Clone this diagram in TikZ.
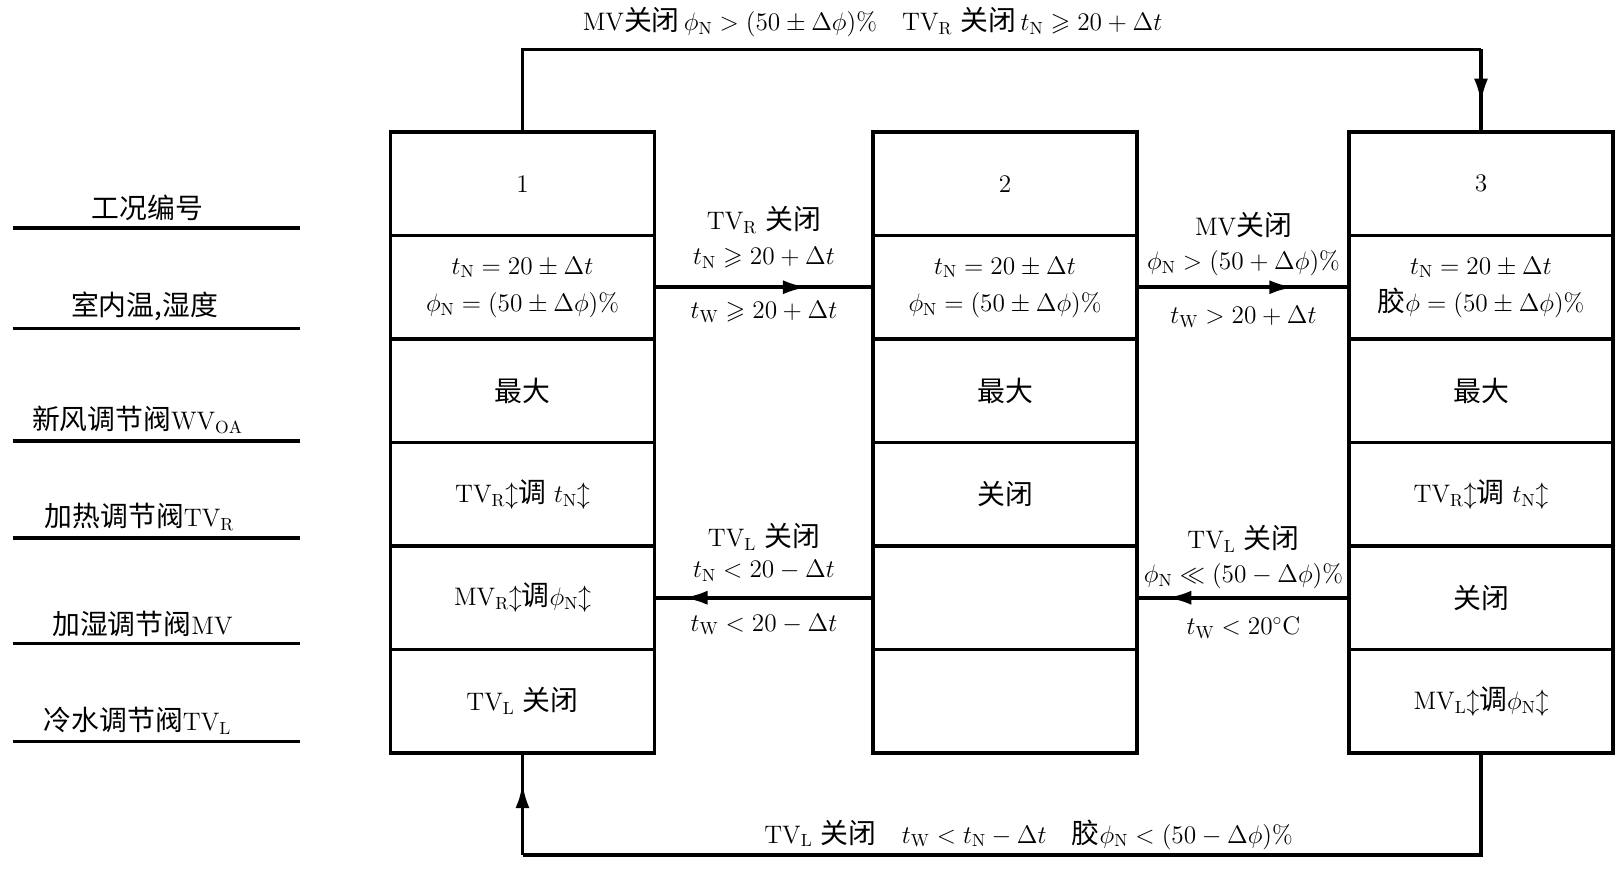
\documentclass[tikz,border=0pt]{standalone}
\usepackage{amsmath}
\usepackage{amssymb}
\usepackage{fontspec}
\newfontfamily\zhfont{Noto Sans CJK SC}[Scale=1.1]
\newcommand{\zh}[1]{{\zhfont #1}}
\usepackage{tikz}
\usetikzlibrary{positioning,arrows.meta,decorations.markings}

\tikzset{
  cell/.style={draw,line width=1.8pt,outer sep=0pt,minimum width=5.28cm,minimum height=2.07cm,align=center,inner sep=2pt},
  flow/.style={line width=2.2pt},
  rowline/.style={line width=1.8pt},
  tipat/.style={postaction={decorate},decoration={markings,mark=at position #1 with {\arrow{Latex[length=14pt,width=8pt]}}}},
}

\begin{document}
\begin{tikzpicture}[every node/.style={font=\fontsize{14.4}{17.3}\selectfont}]
    \useasboundingbox (0,0) rectangle (32.38,17.4);
    % row titles
    \node[above] (lab1) at (2.95,12.86) {\zh{工况编号}};
    \draw[rowline] (0.25,12.84)--(5.99,12.84);
    \node[above] (lab2) at (2.89,10.85) {\zh{室内温,湿度}};
    \draw[rowline] (0.25,10.83)--(5.99,10.83);
    \node[above] (lab3) at (2.75,8.60) {\zh{新风调节阀}WV$_{\mathrm{OA}}$};
    \draw[rowline] (0.25,8.58)--(5.99,8.58);
    \node[above] (lab4) at (2.79,6.66) {\zh{加热调节阀}TV$_{\mathrm R}$};
    \draw[rowline] (0.25,6.64)--(5.99,6.64);
    \node[above] (lab5) at (2.85,4.55) {\zh{加湿调节阀}MV};
    \draw[rowline] (0.25,4.53)--(5.99,4.53);
    \node[above] (lab6) at (2.75,2.59) {\zh{冷水调节阀}TV$_{\mathrm L}$};
    \draw[rowline] (0.25,2.57)--(5.99,2.57);
    % case 1
    \node[cell] (s1-1) at (10.45,13.725) {1};
    \node[cell,below=0pt of s1-1] (s1-2) {$t_{\mathrm N}=20\pm\Delta t$\\[4pt]$\phi_{\mathrm N}=(50\pm\Delta\phi)\%$};
    \node[cell,below=0pt of s1-2] (s1-3) {\zh{最大}};
    \node[cell,below=0pt of s1-3] (s1-4) {TV$_{\mathrm R}{\updownarrow}$\zh{调} $t_{\mathrm N}{\updownarrow}$};
    \node[cell,below=0pt of s1-4] (s1-5) {MV$_{\mathrm R}{\updownarrow}$\zh{调}$\phi_{\mathrm N}{\updownarrow}$};
    \node[cell,below=0pt of s1-5] (s1-6) {TV$_{\mathrm L}$ \zh{关闭}};
    % case 2
    \node[cell] (s2-1) at (20.10,13.725) {2};
    \node[cell,below=0pt of s2-1] (s2-2) {$t_{\mathrm N}=20\pm\Delta t$\\[4pt]$\phi_{\mathrm N}=(50\pm\Delta\phi)\%$};
    \node[cell,below=0pt of s2-2] (s2-3) {\zh{最大}};
    \node[cell,below=0pt of s2-3] (s2-4) {\zh{关闭}};
    \node[cell,below=0pt of s2-4] (s2-5) {};
    \node[cell,below=0pt of s2-5] (s2-6) {};
    % case 3
    \node[cell] (s3-1) at (29.62,13.725) {3};
    \node[cell,below=0pt of s3-1] (s3-2) {$t_{\mathrm N}=20\pm\Delta t$\\[4pt]\zh{胶}$\phi=(50\pm\Delta\phi)\%$};
    \node[cell,below=0pt of s3-2] (s3-3) {\zh{最大}};
    \node[cell,below=0pt of s3-3] (s3-4) {TV$_{\mathrm R}{\updownarrow}$\zh{调} $t_{\mathrm N}{\updownarrow}$};
    \node[cell,below=0pt of s3-4] (s3-5) {\zh{关闭}};
    \node[cell,below=0pt of s3-5] (s3-6) {MV$_{\mathrm L}{\updownarrow}$\zh{调}$\phi_{\mathrm N}{\updownarrow}$};
    % transitions between neighbours
    \draw[flow,tipat=0.7] (s1-2.east)--(s2-2.west);
    \node (k12a) at (15.28,13.00) {TV$_{\mathrm R}$ \zh{关闭}};
    \node (k12b) at (15.28,12.24) {$t_{\mathrm N}\geqslant 20+\Delta t$};
    \node (k12c) at (15.28,11.16) {$t_{\mathrm W}\geqslant 20+\Delta t$};
    \draw[flow,tipat=0.74] (s2-2.east)--(s3-2.west);
    \node (k23a) at (24.87,12.90) {MV\zh{关闭}};
    \node (k23b) at (24.87,12.13) {$\phi_{\mathrm N}>(50+\Delta\phi)\%$};
    \node (k23c) at (24.87,11.06) {$t_{\mathrm W}>20+\Delta t$};
    \draw[flow,tipat=0.87] (s2-5.west)--(s1-5.east);
    \node (k21a) at (15.28,6.66) {TV$_{\mathrm L}$ \zh{关闭}};
    \node (k21b) at (15.28,5.98) {$t_{\mathrm N}<20-\Delta t$};
    \node (k21c) at (15.28,4.91) {$t_{\mathrm W}<20-\Delta t$};
    \draw[flow,tipat=0.86] (s3-5.west)--(s2-5.east);
    \node (k32a) at (24.87,6.62) {TV$_{\mathrm L}$ \zh{关闭}};
    \node (k32b) at (24.87,5.88) {$\phi_{\mathrm N}\ll(50-\Delta\phi)\%$};
    \node (k32c) at (24.87,4.84) {$t_{\mathrm W}<20^{\circ}\mathrm{C}$};
    % outer loops
    \coordinate (topy) at (0,16.41);
    \coordinate (boty) at (0,0.30);
    \draw[flow] (s1-1.north) |- (s3-1.north |- topy) coordinate (tr);
    \draw[flow,tipat=0.65] (tr)--(s3-1.north);
    \node (k13) at (17.45,16.95) {MV\zh{关闭}$\,\phi_{\mathrm N}>(50\pm\Delta\phi)\%$\quad TV$_{\mathrm R}$ \zh{关闭}$\,t_{\mathrm N}\geqslant 20+\Delta t$};
    \draw[flow] (s3-6.south) |- (s1-6.south |- boty) coordinate (bl);
    \draw[flow,tipat=0.7] (bl)--(s1-6.south);
    \node (k31) at (20.57,0.71) {TV$_{\mathrm L}$ \zh{关闭}\quad$t_{\mathrm W}<t_{\mathrm N}-\Delta t$\quad\zh{胶}$\phi_{\mathrm N}<(50-\Delta\phi)\%$};
\end{tikzpicture}
\end{document}
